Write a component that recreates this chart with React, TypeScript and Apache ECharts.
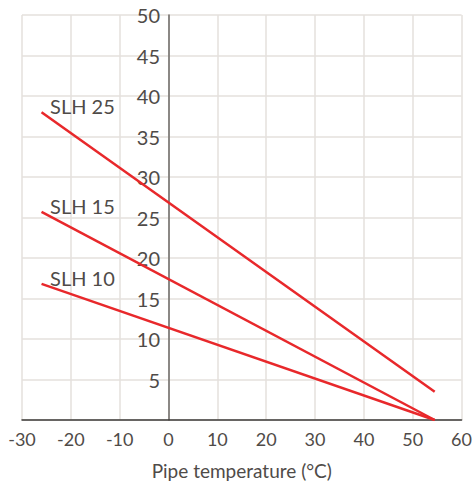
import React, { useEffect, useRef } from "react";
import * as echarts from "echarts";

const seriesNames = ["SLH 25", "SLH 15", "SLH 10"];
const slh25: [number, number][] = [[-26, 38], [54.5, 3.5]];
const slh15: [number, number][] = [[-26, 25.7], [54.5, 0]];
const slh10: [number, number][] = [[-26, 16.8], [54.5, 0]];
const xTicks = { min: -30, max: 60, interval: 10 };
const yTicks = { min: 0, max: 50, interval: 5 };
const xTitle = "Pipe temperature (°C)";

const FONT = "Lato";
const TEXT = "#4f4b48";
const RED = "#e8282b";
const GRID = "#e4e1dc";

export default function App() {
  const ref = useRef<HTMLDivElement>(null);
  useEffect(() => {
    document.body.style.margin = "0";
    if (!ref.current) return;
    const chart = echarts.init(ref.current, null, { renderer: "svg" });
    const all = [slh25, slh15, slh10];
    chart.setOption({
      animation: false,
      backgroundColor: "#ffffff",
      grid: { left: 22, right: 12, top: 15, bottom: 64, containLabel: false },
      xAxis: {
        type: "value",
        min: xTicks.min,
        max: xTicks.max,
        interval: xTicks.interval,
        name: xTitle,
        nameLocation: "middle",
        nameGap: 41,
        nameTextStyle: { fontFamily: FONT, fontSize: 19, color: TEXT },
        axisLine: { onZero: false, lineStyle: { color: "#3c3a38", width: 1.5 } },
        axisTick: { show: false },
        axisLabel: { fontFamily: FONT, fontSize: 18, color: TEXT, margin: 10 },
        splitLine: { show: true, lineStyle: { color: GRID, width: 1.5 } },
      },
      yAxis: {
        type: "value",
        min: yTicks.min,
        max: yTicks.max,
        interval: yTicks.interval,
        position: "left",
        offset: -147,
        axisLine: { show: true, onZero: false, lineStyle: { color: "#6b6865", width: 1.5 } },
        axisTick: { show: false },
        axisLabel: {
          fontFamily: FONT,
          fontSize: 20,
          color: TEXT,
          margin: 9,
          showMinLabel: false,
          formatter: (v: number) => (v === 0 ? "" : String(v)),
        },
        splitLine: { show: true, lineStyle: { color: GRID, width: 1.5 } },
      },
      series: all.map((d, i) => ({
        type: "line",
        name: seriesNames[i],
        symbol: "none",
        lineStyle: { color: RED, width: 2.5 },
        data: d,
        markPoint: {
          silent: true,
          data: [
            {
              coord: d[0],
              symbol: "circle",
              symbolSize: 1,
              itemStyle: { color: "rgba(0,0,0,0)" },
              label: {
                show: true,
                position: "right",
                distance: 8,
                offset: [0, -6],
                formatter: seriesNames[i],
                fontFamily: FONT,
                fontSize: 20,
                color: TEXT,
              },
            },
          ],
        },
      })),
    });
    return () => chart.dispose();
  }, []);
  return <div ref={ref} style={{ width: 475, height: 485 }} />;
}
